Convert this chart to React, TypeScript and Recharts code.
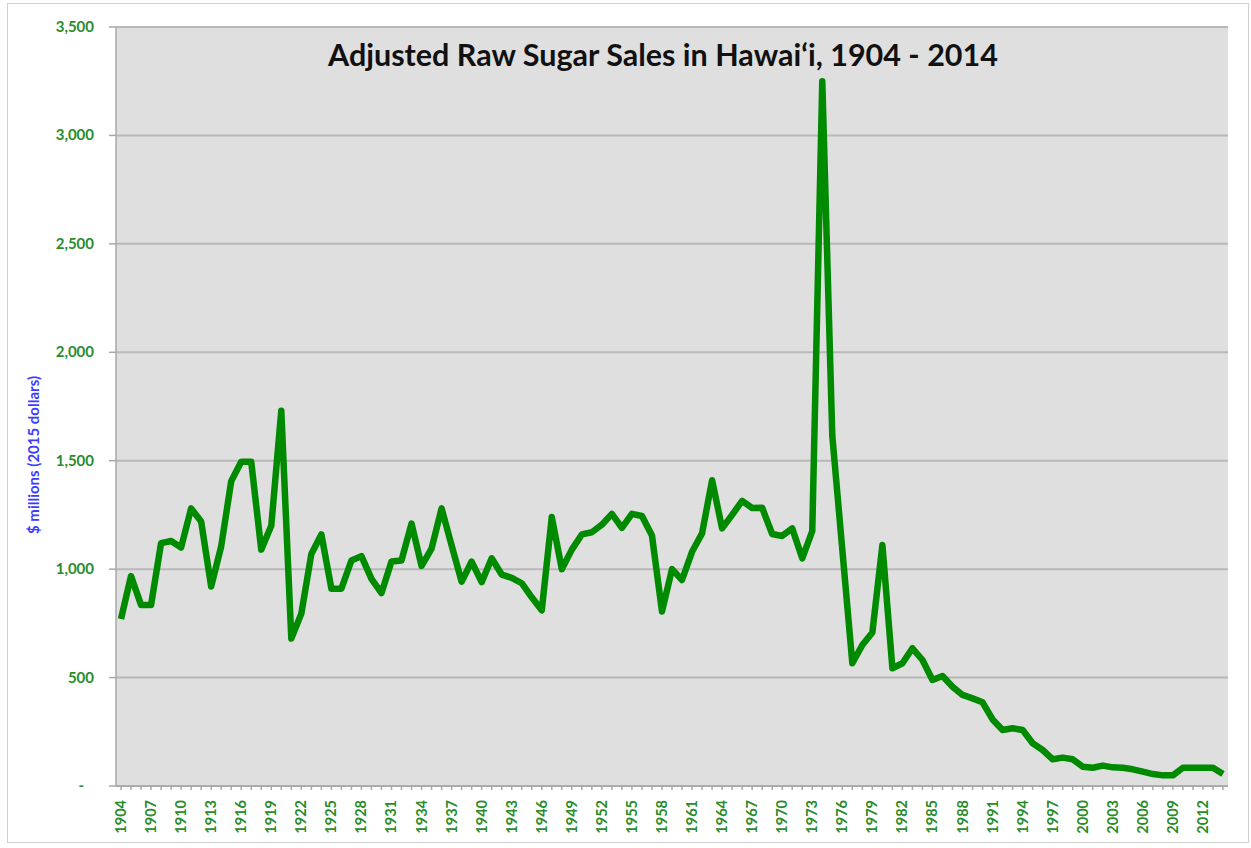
import { LineChart, Line, XAxis, YAxis, CartesianGrid } from 'recharts'

// years 1904..2014
const years: string[] = Array.from({ length: 111 }, (_, i) => String(1904 + i))

// adjusted raw sugar sales, $ millions (2015 dollars)
const sales: number[] = [
  770, 968, 835, 835, 1120, 1130, 1100, 1280, 1220, 920, // 1904-1913
  1105, 1405, 1495, 1495, 1090, 1200, 1730, 680, 795, 1070, // 1914-1923
  1160, 910, 910, 1040, 1060, 955, 890, 1035, 1040, 1210, // 1924-1933
  1015, 1095, 1280, 1110, 942, 1035, 940, 1050, 975, 960, // 1934-1943
  935, 870, 810, 1240, 1000, 1090, 1160, 1170, 1205, 1255, // 1944-1953
  1190, 1255, 1245, 1155, 805, 1000, 950, 1080, 1165, 1410, // 1954-1963
  1188, 1250, 1315, 1282, 1283, 1162, 1153, 1188, 1050, 1175, // 1964-1973
  3250, 1615, 1090, 566, 650, 708, 1111, 543, 566, 635, // 1974-1983
  581, 489, 507, 458, 420, 404, 386, 307, 258, 266, // 1984-1993
  258, 197, 166, 123, 131, 123, 89, 84, 94, 86, // 1994-2003
  84, 77, 66, 55, 49, 49, 84, 84, 84, 84, // 2004-2013
  55, // 2014
]

const yTicks = [0, 500, 1000, 1500, 2000, 2500, 3000, 3500]

const data = years.map((year, i) => ({ year, sales: sales[i] }))

const green = '#2a8c2a'
const font = 'Lato, "Open Sans", sans-serif'

function YTick(props: any) {
  const { x, y, payload } = props
  const v = payload.value as number
  const label = v === 0 ? '-' : v.toLocaleString('en-US')
  return (
    <text x={v === 0 ? x - 10 : x} y={y} dy={5} textAnchor="end" fill={green}
      fontFamily={font} fontWeight={700} fontSize={15}>
      {label}
    </text>
  )
}

function XTick(props: any) {
  const { x, y, payload, index } = props
  if (index % 3 !== 0) return null
  return (
    <g transform={`translate(${x},${y})`}>
      <text transform="rotate(-90)" textAnchor="end" dy={5} fill={green}
        fontFamily={font} fontWeight={700} fontSize={14.5}>
        {payload.value}
      </text>
    </g>
  )
}

function YLabel() {
  return (
    <text transform="translate(39,455) rotate(-90)" textAnchor="middle" fill="#3c3cff"
      fontFamily={font} fontWeight={700} fontSize={15}>
      $ millions (2015 dollars)
    </text>
  )
}

export default function App() {
  return (
    <div style={{ position: 'absolute', left: 0, top: 0, width: 1251, height: 848, background: '#fff' }}>
      <div style={{ position: 'absolute', left: 7, top: 3, width: 1240, height: 838, border: '1.5px solid #cfcfcf' }} />
      <LineChart width={1251} height={848} data={data}
        margin={{ top: 27, right: 23, left: 16, bottom: 12 }}>
        <CartesianGrid vertical={false} fill="#dfdfdf" stroke="#b8b8b8" strokeWidth={2} />
        <XAxis dataKey="year" interval={0} height={50} padding={{ left: 5, right: 5 }}
          stroke="#a8a8a8" strokeWidth={1.5} tickSize={4} tickMargin={10} tick={<XTick />} />
        <YAxis domain={[0, 3500]} ticks={yTicks} width={100} stroke="#a8a8a8" strokeWidth={1.5}
          tickSize={7} tickMargin={15} tick={<YTick />} label={<YLabel />} />
        <Line type="linear" dataKey="sales" stroke="#008a00" strokeWidth={6.5} dot={false}
          strokeLinejoin="round" isAnimationActive={false} />
      </LineChart>
      <div style={{ position: 'absolute', left: 163, top: 36, width: 1000, textAlign: 'center',
        fontFamily: font, fontSize: 30.5, fontWeight: 700, color: '#111', lineHeight: '36px' }}>
        Adjusted Raw Sugar Sales in Hawai‘i, 1904 - 2014
      </div>
    </div>
  )
}
